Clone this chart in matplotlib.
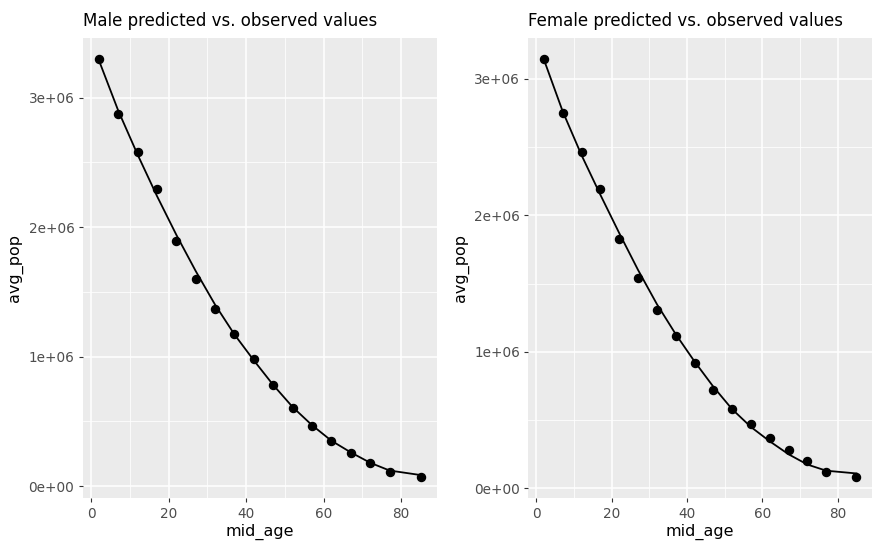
import numpy as np
import matplotlib.pyplot as plt
from matplotlib.ticker import MultipleLocator, FuncFormatter

plt.rcParams['font.family'] = ['DejaVu Sans']

# mid ages of the age groups
mid_age = [2, 7, 12, 17, 22, 27, 32, 37, 42, 47, 52, 57, 62, 67, 72, 77, 85]

# observed averages
male_obs = [3.296e6, 2.876e6, 2.576e6, 2.295e6, 1.893e6, 1.598e6, 1.368e6, 1.176e6,
            0.983e6, 0.779e6, 0.605e6, 0.466e6, 0.349e6, 0.257e6, 0.180e6, 0.110e6, 0.067e6]
female_obs = [3.143e6, 2.749e6, 2.460e6, 2.193e6, 1.823e6, 1.538e6, 1.307e6, 1.114e6,
              0.922e6, 0.721e6, 0.579e6, 0.470e6, 0.368e6, 0.282e6, 0.200e6, 0.122e6, 0.081e6]

# model predictions (the line)
male_pred = [3.29e6, 2.90e6, 2.56e6, 2.24e6, 1.94e6, 1.66e6, 1.40e6, 1.17e6,
             0.97e6, 0.78e6, 0.61e6, 0.47e6, 0.35e6, 0.26e6, 0.18e6, 0.12e6, 0.085e6]
female_pred = [3.14e6, 2.76e6, 2.44e6, 2.15e6, 1.87e6, 1.60e6, 1.35e6, 1.13e6,
               0.93e6, 0.745e6, 0.58e6, 0.45e6, 0.345e6, 0.25e6, 0.175e6, 0.13e6, 0.11e6]

titles = ['Male predicted vs. observed values', 'Female predicted vs. observed values']

W, H = 872, 544
fig = plt.figure(figsize=(W / 100, H / 100), dpi=100)

# panel boxes in pixels: left, right, top, bottom
boxes = [(82.7, 436.7, 38.3, 498.3), (528.3, 872, 38.3, 498.3)]


def panel(box, obs, pred, title):
    l, r, t, b = box
    ax = fig.add_axes([l / W, 1 - b / H, (r - l) / W, (b - t) / H])
    ax.set_facecolor('#EBEBEB')
    for s in ax.spines.values():
        s.set_visible(False)

    ax.plot(mid_age, pred, color='black', lw=1.3, zorder=3)
    ax.plot(mid_age, obs, 'o', color='black', ms=5.8, zorder=4)

    # ggplot style 5% expansion
    xlo, xhi = min(mid_age), max(mid_age)
    ylo, yhi = min(obs + pred), max(obs + pred)
    ax.set_xlim(xlo - 0.05 * (xhi - xlo), xhi + 0.05 * (xhi - xlo))
    ax.set_ylim(ylo - 0.05 * (yhi - ylo), yhi + 0.05 * (yhi - ylo))

    ax.xaxis.set_major_locator(MultipleLocator(20))
    ax.xaxis.set_minor_locator(MultipleLocator(10))
    ax.yaxis.set_major_locator(MultipleLocator(1e6))
    ax.yaxis.set_minor_locator(MultipleLocator(5e5))
    ax.yaxis.set_major_formatter(FuncFormatter(lambda v, p: f'{v:.0e}'))

    ax.grid(which='major', color='white', lw=1.1)
    ax.grid(which='minor', color='white', lw=0.55)
    ax.set_axisbelow(True)

    ax.tick_params(which='major', length=3, width=0.8, color='#333333',
                   labelcolor='#4D4D4D', labelsize=9.8, pad=3)
    ax.tick_params(which='minor', length=0)

    ax.set_xlabel('mid_age', fontsize=11.5, labelpad=2)
    ax.set_ylabel('avg_pop', fontsize=11.5, labelpad=4)

    fig.text(l / W, 1 - 26 / H, title, fontsize=12, ha='left', va='baseline')
    return ax


ax1 = panel(boxes[0], male_obs, male_pred, titles[0])
ax2 = panel(boxes[1], female_obs, female_pred, titles[1])

fig.savefig('out.png', dpi=100)
